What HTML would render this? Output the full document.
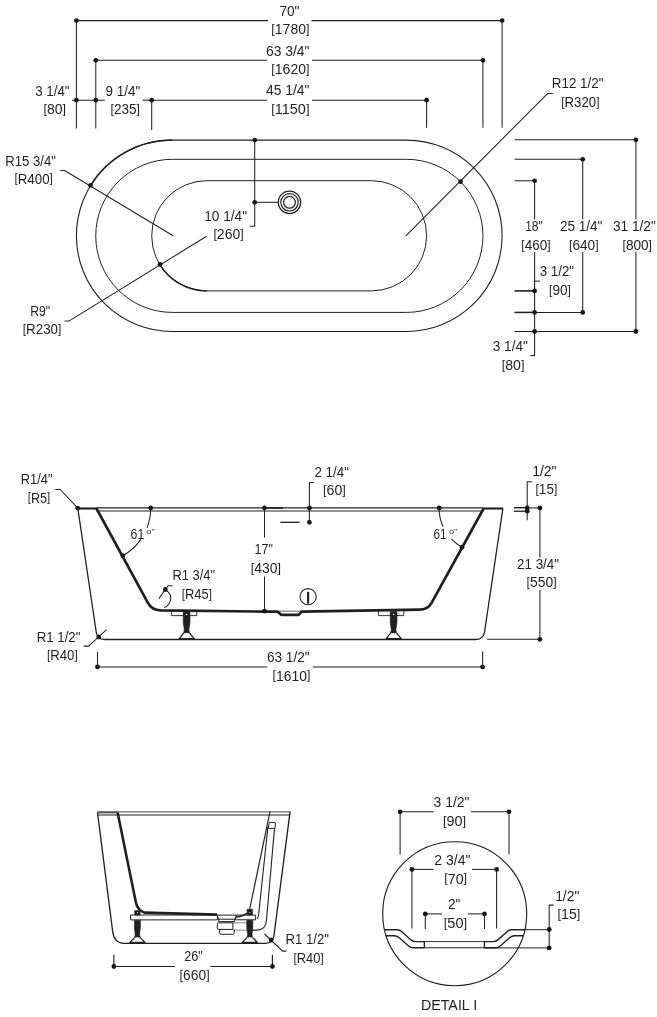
<!DOCTYPE html>
<html><head><meta charset="utf-8"><title>Bathtub dimensions</title>
<style>
html,body{margin:0;padding:0;background:#fff;}
svg{display:block;will-change:transform;}
svg text{font-family:"Liberation Sans",sans-serif;fill:#231f20;stroke:none;}
svg .d{fill:#1a1718;stroke:none;}
</style></head><body>
<svg width="657" height="1017" viewBox="0 0 657 1017" fill="none" stroke="#231f20" stroke-width="1.05" stroke-linecap="butt" stroke-linejoin="round">
<g id="top">
<path d="M172.1,140.1 H406.4 A95.7,95.7 0 0 1 406.4,331.5 H172.1 A95.7,95.7 0 0 1 172.1,140.1 Z" stroke-width="1.1"/>
<path d="M172.3,159.3 H406.4 A76.5,76.5 0 0 1 406.4,312.4 H172.3 A76.5,76.5 0 0 1 172.3,159.3 Z" stroke-width="1.0"/>
<path d="M206.8,180.7 H371.5 A55.1,55.1 0 0 1 371.5,290.9 H206.8 A55.1,55.1 0 0 1 206.8,180.7 Z" stroke-width="1.0"/>
<circle cx="289.5" cy="202.3" r="11.2" stroke-width="1.2"/>
<circle cx="289.5" cy="202.3" r="8.7" stroke-width="1.2"/>
<circle cx="289.5" cy="202.3" r="5.9" stroke-width="1.2"/>
<line x1="76.4" y1="20.6" x2="268.0" y2="20.6"/>
<line x1="311.5" y1="20.6" x2="502.1" y2="20.6"/>
<line x1="76.4" y1="20.6" x2="76.4" y2="128.6"/>
<line x1="502.1" y1="20.6" x2="502.1" y2="127.8"/>
<circle cx="76.4" cy="20.6" r="2.4" class="d"/>
<circle cx="502.1" cy="20.6" r="2.4" class="d"/>
<line x1="95.8" y1="60.3" x2="267.0" y2="60.3"/>
<line x1="312.0" y1="60.3" x2="482.9" y2="60.3"/>
<line x1="95.8" y1="60.3" x2="95.8" y2="128.6"/>
<line x1="482.9" y1="60.3" x2="482.9" y2="127.8"/>
<circle cx="95.8" cy="60.3" r="2.4" class="d"/>
<circle cx="482.9" cy="60.3" r="2.4" class="d"/>
<line x1="151.7" y1="100.2" x2="267.0" y2="100.2"/>
<line x1="312.0" y1="100.2" x2="426.6" y2="100.2"/>
<line x1="151.7" y1="100.2" x2="151.7" y2="130.0"/>
<line x1="426.6" y1="100.2" x2="426.6" y2="127.8"/>
<circle cx="151.7" cy="100.2" r="2.4" class="d"/>
<circle cx="426.6" cy="100.2" r="2.4" class="d"/>
<line x1="72.0" y1="100.2" x2="104.8" y2="100.2"/>
<circle cx="76.4" cy="100.2" r="2.4" class="d"/>
<circle cx="95.8" cy="100.2" r="2.4" class="d"/>
<line x1="142.6" y1="100.2" x2="151.7" y2="100.2"/>
<text x="35.2" y="95.9" textLength="34.4" lengthAdjust="spacingAndGlyphs" font-size="13.9">3 1/4&quot;</text>
<text x="43.5" y="113.9" textLength="22.5" lengthAdjust="spacingAndGlyphs" font-size="13.9"><tspan font-size="12.4" dy="-1.2">[</tspan><tspan dy="1.2">80</tspan><tspan font-size="12.4" dy="-1.2">]</tspan></text>
<text x="105.5" y="96.0" textLength="34.8" lengthAdjust="spacingAndGlyphs" font-size="13.9">9 1/4&quot;</text>
<text x="110.5" y="114.0" textLength="29.5" lengthAdjust="spacingAndGlyphs" font-size="13.9"><tspan font-size="12.4" dy="-1.2">[</tspan><tspan dy="1.2">235</tspan><tspan font-size="12.4" dy="-1.2">]</tspan></text>
<text x="279.4" y="16.0" textLength="20.1" lengthAdjust="spacingAndGlyphs" font-size="13.9">70&quot;</text>
<text x="271.3" y="33.7" textLength="38.2" lengthAdjust="spacingAndGlyphs" font-size="13.9"><tspan font-size="12.4" dy="-1.2">[</tspan><tspan dy="1.2">1780</tspan><tspan font-size="12.4" dy="-1.2">]</tspan></text>
<text x="266.0" y="55.6" textLength="43.5" lengthAdjust="spacingAndGlyphs" font-size="13.9">63 3/4&quot;</text>
<text x="271.3" y="74.4" textLength="38.2" lengthAdjust="spacingAndGlyphs" font-size="13.9"><tspan font-size="12.4" dy="-1.2">[</tspan><tspan dy="1.2">1620</tspan><tspan font-size="12.4" dy="-1.2">]</tspan></text>
<text x="266.0" y="95.4" textLength="43.5" lengthAdjust="spacingAndGlyphs" font-size="13.9">45 1/4&quot;</text>
<text x="271.3" y="114.2" textLength="38.2" lengthAdjust="spacingAndGlyphs" font-size="13.9"><tspan font-size="12.4" dy="-1.2">[</tspan><tspan dy="1.2">1150</tspan><tspan font-size="12.4" dy="-1.2">]</tspan></text>
<text x="551.8" y="88.3" textLength="51.6" lengthAdjust="spacingAndGlyphs" font-size="13.9">R12 1/2&quot;</text>
<text x="561.2" y="107.2" textLength="38.3" lengthAdjust="spacingAndGlyphs" font-size="13.9"><tspan font-size="12.4" dy="-1.2">[</tspan><tspan dy="1.2">R320</tspan><tspan font-size="12.4" dy="-1.2">]</tspan></text>
<path d="M552.8,93.4 H547.8 L405.9,235.9"/>
<circle cx="460.6" cy="181.7" r="2.4" class="d"/>
<text x="5.3" y="165.7" textLength="50.6" lengthAdjust="spacingAndGlyphs" font-size="13.9">R15 3/4&quot;</text>
<text x="14.4" y="183.5" textLength="38.5" lengthAdjust="spacingAndGlyphs" font-size="13.9"><tspan font-size="12.4" dy="-1.2">[</tspan><tspan dy="1.2">R400</tspan><tspan font-size="12.4" dy="-1.2">]</tspan></text>
<path d="M60.3,170.5 H64.6 L173.1,235.8"/>
<path d="M90.4,185.5 A95.7,95.7 0 0 1 172.1,140.1" stroke-width="1.55"/>
<circle cx="90.5" cy="185.4" r="2.4" class="d"/>
<text x="30.3" y="316.0" textLength="19.9" lengthAdjust="spacingAndGlyphs" font-size="13.9">R9&quot;</text>
<text x="22.8" y="333.7" textLength="38.5" lengthAdjust="spacingAndGlyphs" font-size="13.9"><tspan font-size="12.4" dy="-1.2">[</tspan><tspan dy="1.2">R230</tspan><tspan font-size="12.4" dy="-1.2">]</tspan></text>
<path d="M64.6,320.9 H69.3 L206.6,236.2"/>
<path d="M159.8,264.6 A55.1,55.1 0 0 0 206.8,290.9" stroke-width="1.5"/>
<circle cx="160.0" cy="264.4" r="2.4" class="d"/>
<path d="M254.7,140.1 V226.3 H249.9"/>
<circle cx="254.7" cy="140.1" r="2.4" class="d"/>
<circle cx="254.7" cy="202.3" r="2.4" class="d"/>
<line x1="254.7" y1="202.3" x2="278.3" y2="202.3"/>
<text x="204.3" y="221.2" textLength="42.7" lengthAdjust="spacingAndGlyphs" font-size="13.9">10 1/4&quot;</text>
<text x="213.4" y="239.3" textLength="30.3" lengthAdjust="spacingAndGlyphs" font-size="13.9"><tspan font-size="12.4" dy="-1.2">[</tspan><tspan dy="1.2">260</tspan><tspan font-size="12.4" dy="-1.2">]</tspan></text>
<line x1="514.6" y1="139.8" x2="635.9" y2="139.8"/>
<circle cx="635.9" cy="139.8" r="2.4" class="d"/>
<line x1="514.6" y1="159.3" x2="582.7" y2="159.3"/>
<circle cx="582.7" cy="159.3" r="2.4" class="d"/>
<line x1="514.6" y1="180.8" x2="534.6" y2="180.8"/>
<circle cx="534.6" cy="180.8" r="2.4" class="d"/>
<line x1="635.9" y1="139.8" x2="635.9" y2="219.5"/>
<line x1="635.9" y1="252.0" x2="635.9" y2="331.5"/>
<line x1="582.7" y1="159.3" x2="582.7" y2="219.5"/>
<line x1="582.7" y1="252.0" x2="582.7" y2="312.4"/>
<line x1="534.6" y1="180.8" x2="534.6" y2="219.5"/>
<path d="M534.6,252 V355.4 H530.3"/>
<line x1="534.6" y1="281.1" x2="540.0" y2="281.1"/>
<line x1="514.6" y1="290.9" x2="534.6" y2="290.9" stroke-width="1.6"/>
<circle cx="534.6" cy="290.9" r="2.4" class="d"/>
<line x1="514.6" y1="312.4" x2="582.7" y2="312.4"/>
<line x1="514.6" y1="312.4" x2="534.6" y2="312.4" stroke-width="1.5"/>
<circle cx="534.6" cy="312.4" r="2.4" class="d"/>
<circle cx="582.7" cy="312.4" r="2.4" class="d"/>
<line x1="514.6" y1="331.5" x2="635.9" y2="331.5"/>
<circle cx="534.6" cy="331.5" r="2.4" class="d"/>
<circle cx="635.9" cy="331.5" r="2.4" class="d"/>
<text x="525.2" y="231.3" textLength="17.6" lengthAdjust="spacingAndGlyphs" font-size="13.9">18&quot;</text>
<text x="521.3" y="249.8" textLength="29.3" lengthAdjust="spacingAndGlyphs" font-size="13.9"><tspan font-size="12.4" dy="-1.2">[</tspan><tspan dy="1.2">460</tspan><tspan font-size="12.4" dy="-1.2">]</tspan></text>
<text x="560.0" y="231.3" textLength="42.4" lengthAdjust="spacingAndGlyphs" font-size="13.9">25 1/4&quot;</text>
<text x="569.0" y="249.8" textLength="29.6" lengthAdjust="spacingAndGlyphs" font-size="13.9"><tspan font-size="12.4" dy="-1.2">[</tspan><tspan dy="1.2">640</tspan><tspan font-size="12.4" dy="-1.2">]</tspan></text>
<text x="613.0" y="231.3" textLength="42.8" lengthAdjust="spacingAndGlyphs" font-size="13.9">31 1/2&quot;</text>
<text x="622.5" y="249.8" textLength="29.5" lengthAdjust="spacingAndGlyphs" font-size="13.9"><tspan font-size="12.4" dy="-1.2">[</tspan><tspan dy="1.2">800</tspan><tspan font-size="12.4" dy="-1.2">]</tspan></text>
<text x="539.7" y="276.4" textLength="34.4" lengthAdjust="spacingAndGlyphs" font-size="13.9">3 1/2&quot;</text>
<text x="549.1" y="294.8" textLength="21.9" lengthAdjust="spacingAndGlyphs" font-size="13.9"><tspan font-size="12.4" dy="-1.2">[</tspan><tspan dy="1.2">90</tspan><tspan font-size="12.4" dy="-1.2">]</tspan></text>
<text x="492.7" y="351.3" textLength="35.2" lengthAdjust="spacingAndGlyphs" font-size="13.9">3 1/4&quot;</text>
<text x="501.7" y="369.8" textLength="22.7" lengthAdjust="spacingAndGlyphs" font-size="13.9"><tspan font-size="12.4" dy="-1.2">[</tspan><tspan dy="1.2">80</tspan><tspan font-size="12.4" dy="-1.2">]</tspan></text>
</g>
<g id="side">
<line x1="96.5" y1="507.8" x2="483.6" y2="507.8" stroke-width="1.2"/>
<line x1="96.5" y1="511.0" x2="483.6" y2="511.0" stroke-width="1.0"/>
<line x1="77.7" y1="508.5" x2="97.0" y2="508.5" stroke-width="2.1"/>
<line x1="483.2" y1="508.5" x2="503.2" y2="508.5" stroke-width="2.1"/>
<path d="M77.9,509 L96.3,632.5 Q97.4,639.5 104.5,639.5 H476 Q483.4,639.5 484.6,631.5 L502.8,509" stroke-width="1.3"/>
<path d="M96.5,508.5 L147.9,602.8 Q151.8,610 160.6,610.4 L264.5,611.6 L277.4,611.6 L281.2,614.8 H298.7 L301.8,611.6 L419.5,609.7 Q427.8,609.6 431.6,602.8 L483.6,508.5" stroke-width="2.7"/>
<line x1="277.4" y1="611.2" x2="301.8" y2="611.2" stroke-width="0.7"/>
<path d="M171.4,611 V615.6 H196.8 V611" stroke-width="0.9"/>
<path d="M183.2,611.5 H190.0 V622.5 L188.9,630 L189.8,633.6 H183.4 L184.3,630 L183.2,622.5 Z" stroke-width="0.6" fill="#231f20"/>
<path d="M183.6,633.2 L179.2,638.6 H194.2 L189.6,633.2" stroke-width="1.3" fill="#fff"/>
<circle cx="186.6" cy="614.4" r="0.7" fill="#fff" stroke="none"/>
<circle cx="186.6" cy="633.4" r="0.7" fill="#fff" stroke="none"/>
<path d="M378.4,611 V615.6 H403.8 V611" stroke-width="0.9"/>
<path d="M390.2,611.5 H397.0 V622.5 L395.9,630 L396.8,633.6 H390.4 L391.3,630 L390.2,622.5 Z" stroke-width="0.6" fill="#231f20"/>
<path d="M390.6,633.2 L386.2,638.6 H401.2 L396.6,633.2" stroke-width="1.3" fill="#fff"/>
<circle cx="393.6" cy="614.4" r="0.7" fill="#fff" stroke="none"/>
<circle cx="393.6" cy="633.4" r="0.7" fill="#fff" stroke="none"/>
<path d="M150.7,508.3 A54.2,54.2 0 0 1 147.1,527.7"/>
<path d="M140.9,539.4 A54.2,54.2 0 0 1 122.8,555.7"/>
<circle cx="150.7" cy="507.9" r="2.4" class="d"/>
<circle cx="122.8" cy="555.7" r="2.4" class="d"/>
<path d="M439.1,508.3 A44.5,44.5 0 0 0 443.1,526.8"/>
<path d="M451.3,538.9 A44.5,44.5 0 0 0 462.0,547.2"/>
<circle cx="439.1" cy="507.9" r="2.4" class="d"/>
<circle cx="462.0" cy="547.2" r="2.4" class="d"/>
<text x="130.6" y="539.4" textLength="13.6" lengthAdjust="spacingAndGlyphs" font-size="13.9">61</text>
<text x="146.3" y="533.7" textLength="8.4" lengthAdjust="spacingAndGlyphs" font-size="8">o&quot;</text>
<text x="433.4" y="538.8" textLength="13.0" lengthAdjust="spacingAndGlyphs" font-size="13.9">61</text>
<text x="448.9" y="533.5" textLength="8.4" lengthAdjust="spacingAndGlyphs" font-size="8">o&quot;</text>
<text x="20.8" y="484.4" textLength="31.8" lengthAdjust="spacingAndGlyphs" font-size="13.9">R1/4&quot;</text>
<text x="27.8" y="502.6" textLength="22.4" lengthAdjust="spacingAndGlyphs" font-size="13.9"><tspan font-size="12.4" dy="-1.2">[</tspan><tspan dy="1.2">R5</tspan><tspan font-size="12.4" dy="-1.2">]</tspan></text>
<path d="M55.3,489.5 H60.3 L77.7,508.2"/>
<circle cx="77.7" cy="508.2" r="2.4" class="d"/>
<text x="172.5" y="580.4" textLength="42.5" lengthAdjust="spacingAndGlyphs" font-size="13.9">R1 3/4&quot;</text>
<text x="181.8" y="598.9" textLength="30.2" lengthAdjust="spacingAndGlyphs" font-size="13.9"><tspan font-size="12.4" dy="-1.2">[</tspan><tspan dy="1.2">R45</tspan><tspan font-size="12.4" dy="-1.2">]</tspan></text>
<path d="M172.6,585.7 H168 L158.9,598.6"/>
<path d="M165.3,589.5 Q172,594 170.6,600 Q169.2,605.5 164.2,607.7"/>
<circle cx="165.3" cy="589.5" r="2.4" class="d"/>
<text x="36.8" y="641.8" textLength="43.6" lengthAdjust="spacingAndGlyphs" font-size="13.9">R1 1/2&quot;</text>
<text x="46.9" y="660.0" textLength="30.8" lengthAdjust="spacingAndGlyphs" font-size="13.9"><tspan font-size="12.4" dy="-1.2">[</tspan><tspan dy="1.2">R40</tspan><tspan font-size="12.4" dy="-1.2">]</tspan></text>
<path d="M83.7,646.1 H88.7 L106.5,629.7"/>
<circle cx="98.8" cy="637.0" r="2.4" class="d"/>
<line x1="264.5" y1="507.9" x2="264.5" y2="537.5"/>
<line x1="264.5" y1="576.5" x2="264.5" y2="611.2"/>
<circle cx="264.5" cy="507.9" r="2.4" class="d"/>
<circle cx="264.5" cy="611.2" r="2.4" class="d"/>
<line x1="264.5" y1="508.0" x2="283.0" y2="508.0" stroke-width="1.6"/>
<text x="254.5" y="554.4" textLength="18.4" lengthAdjust="spacingAndGlyphs" font-size="13.9">17&quot;</text>
<text x="250.8" y="572.9" textLength="30.2" lengthAdjust="spacingAndGlyphs" font-size="13.9"><tspan font-size="12.4" dy="-1.2">[</tspan><tspan dy="1.2">430</tspan><tspan font-size="12.4" dy="-1.2">]</tspan></text>
<path d="M313.8,482.5 H309.4 V522.3"/>
<circle cx="309.4" cy="507.9" r="2.4" class="d"/>
<circle cx="309.4" cy="522.3" r="2.4" class="d"/>
<line x1="280.3" y1="522.3" x2="299.7" y2="522.3" stroke-width="1.3"/>
<text x="314.4" y="477.1" textLength="34.5" lengthAdjust="spacingAndGlyphs" font-size="13.9">2 1/4&quot;</text>
<text x="323.1" y="495.2" textLength="22.8" lengthAdjust="spacingAndGlyphs" font-size="13.9"><tspan font-size="12.4" dy="-1.2">[</tspan><tspan dy="1.2">60</tspan><tspan font-size="12.4" dy="-1.2">]</tspan></text>
<circle cx="308.1" cy="596.7" r="8.1" stroke-width="1.1"/>
<line x1="308.1" y1="591.8" x2="308.1" y2="603.6" stroke-width="2.1"/>
<line x1="97.5" y1="666.9" x2="267.2" y2="666.9"/>
<line x1="312.8" y1="666.9" x2="482.6" y2="666.9"/>
<line x1="97.5" y1="652.1" x2="97.5" y2="666.9"/>
<line x1="482.6" y1="651.4" x2="482.6" y2="666.9"/>
<circle cx="97.5" cy="666.9" r="2.4" class="d"/>
<circle cx="482.6" cy="666.9" r="2.4" class="d"/>
<text x="266.9" y="662.1" textLength="42.8" lengthAdjust="spacingAndGlyphs" font-size="13.9">63 1/2&quot;</text>
<text x="272.6" y="680.5" textLength="37.8" lengthAdjust="spacingAndGlyphs" font-size="13.9"><tspan font-size="12.4" dy="-1.2">[</tspan><tspan dy="1.2">1610</tspan><tspan font-size="12.4" dy="-1.2">]</tspan></text>
<line x1="513.8" y1="507.7" x2="527.2" y2="507.7" stroke-width="1.4"/>
<line x1="513.8" y1="511.2" x2="527.2" y2="511.2" stroke-width="1.3"/>
<path d="M532.2,481.8 H527.2 V520.3"/>
<circle cx="527.2" cy="507.9" r="2.4" class="d"/>
<circle cx="527.2" cy="511.2" r="2.4" class="d"/>
<line x1="527.2" y1="507.9" x2="539.9" y2="507.9"/>
<circle cx="539.9" cy="507.9" r="2.4" class="d"/>
<line x1="539.9" y1="507.9" x2="539.9" y2="557.5"/>
<line x1="539.9" y1="590.0" x2="539.9" y2="639.3"/>
<circle cx="539.9" cy="639.3" r="2.4" class="d"/>
<line x1="487.0" y1="639.3" x2="539.9" y2="639.3"/>
<text x="532.2" y="476.1" textLength="24.4" lengthAdjust="spacingAndGlyphs" font-size="13.9">1/2&quot;</text>
<text x="535.5" y="494.2" textLength="21.8" lengthAdjust="spacingAndGlyphs" font-size="13.9"><tspan font-size="12.4" dy="-1.2">[</tspan><tspan dy="1.2">15</tspan><tspan font-size="12.4" dy="-1.2">]</tspan></text>
<text x="517.1" y="568.5" textLength="41.9" lengthAdjust="spacingAndGlyphs" font-size="13.9">21 3/4&quot;</text>
<text x="526.5" y="587.0" textLength="30.1" lengthAdjust="spacingAndGlyphs" font-size="13.9"><tspan font-size="12.4" dy="-1.2">[</tspan><tspan dy="1.2">550</tspan><tspan font-size="12.4" dy="-1.2">]</tspan></text>
</g>
<g id="end" stroke-width="1.15">
<line x1="97.5" y1="812.3" x2="117.8" y2="812.3" stroke-width="2.2" stroke="#5a5657"/>
<line x1="117.6" y1="811.8" x2="290.1" y2="811.8" stroke-width="1.3" stroke="#6e6a6b"/>
<line x1="97.8" y1="815.0" x2="289.7" y2="815.0" stroke-width="1.15"/>
<path d="M97.5,812.5 L112.6,931 Q114,943.3 124,943.3 H266 Q272.6,943.3 273.9,936 L290.1,811.7" stroke-width="1.35"/>
<path d="M130.6,915 H217.4 V919.9 H130.6 Z" stroke-width="1.0" fill="#fff"/>
<path d="M236.5,915.1 H255.6 V919.8 H235.5 Z" stroke-width="1.0" fill="#fff"/>
<path d="M117.6,812.6 L135.9,902.5 Q137.4,910 144.5,912.6 L217,914.6" stroke-width="2.6"/>
<path d="M270,811.7 L249.4,910.5" stroke-width="1.15"/>
<path d="M267.9,826.8 L258.6,915 Q258,918.5 257,918.9" stroke-width="1.1"/>
<path d="M269.3,822.4 H274.2 Q275.6,822.4 275.4,824 L275,828.4 H268.3 Z" stroke-width="1.0"/>
<path d="M274.5,828.4 L266.4,921 Q265.5,930.1 257,930.1 H247" stroke-width="1.1"/>
<path d="M216.9,915.1 H236.5 L234.7,919.2 H218.7 Z" stroke-width="1.0" fill="#fff"/>
<path d="M218.7,919.2 V921.6 H234.7 V919.2" stroke-width="1.0"/>
<path d="M218.6,922.8 H232.9 V929.4 H218.6 Q217.3,929.4 217.3,928 V924.2 Q217.3,922.8 218.6,922.8 Z" stroke-width="1.0"/>
<path d="M232.9,922.8 H247 M232.9,930.1 H247" stroke-width="0.8" stroke="#6a6667"/>
<path d="M219.6,929.6 V932.8 Q219.6,934.3 221.1,934.3 H232.7 Q234.2,934.3 234.2,932.8 V929.6" stroke-width="1.0"/>
<path d="M236.5,917 Q243,916.5 247,913.2" stroke-width="1.6"/>
<path d="M134.7,910.6 H140.1 V915 H134.7 Z" stroke-width="0.6" fill="#231f20"/>
<path d="M134.4,920.3 H140.4 V928 L139.6,934.5 L140.4,938 H134.4 L135.2,934.5 L134.4,928 Z" stroke-width="0.6" fill="#231f20"/>
<path d="M134.6,937.6 L129.8,942.4 H145.0 L140.2,937.6" stroke-width="1.3" fill="#fff"/>
<circle cx="137.4" cy="912.6" r="0.55" fill="#fff" stroke="none"/>
<circle cx="137.4" cy="937.4" r="0.55" fill="#fff" stroke="none"/>
<path d="M247.1,909.3 H252.5 V915 H247.1 Z" stroke-width="0.6" fill="#231f20"/>
<path d="M246.8,920.3 H252.8 V928 L252.0,934.5 L252.8,938 H246.8 L247.6,934.5 L246.8,928 Z" stroke-width="0.6" fill="#231f20"/>
<path d="M247.0,937.6 L242.2,942.4 H257.4 L252.6,937.6" stroke-width="1.3" fill="#fff"/>
<circle cx="249.8" cy="912.6" r="0.55" fill="#fff" stroke="none"/>
<circle cx="249.8" cy="937.4" r="0.55" fill="#fff" stroke="none"/>
<line x1="113.9" y1="966.5" x2="174.9" y2="966.5"/>
<line x1="210.3" y1="966.5" x2="272.4" y2="966.5"/>
<line x1="113.9" y1="954.8" x2="113.9" y2="966.5"/>
<line x1="272.4" y1="954.8" x2="272.4" y2="966.5"/>
<circle cx="113.9" cy="966.5" r="2.4" class="d"/>
<circle cx="272.4" cy="966.5" r="2.4" class="d"/>
<text x="184.2" y="960.9" textLength="18.6" lengthAdjust="spacingAndGlyphs" font-size="13.9">26&quot;</text>
<text x="179.6" y="980.3" textLength="30.0" lengthAdjust="spacingAndGlyphs" font-size="13.9"><tspan font-size="12.4" dy="-1.2">[</tspan><tspan dy="1.2">660</tspan><tspan font-size="12.4" dy="-1.2">]</tspan></text>
<text x="285.6" y="944.1" textLength="43.4" lengthAdjust="spacingAndGlyphs" font-size="13.9">R1 1/2&quot;</text>
<text x="293.6" y="962.8" textLength="30.0" lengthAdjust="spacingAndGlyphs" font-size="13.9"><tspan font-size="12.4" dy="-1.2">[</tspan><tspan dy="1.2">R40</tspan><tspan font-size="12.4" dy="-1.2">]</tspan></text>
<path d="M264.5,934 L282.6,951.1 H286.3"/>
<circle cx="271.1" cy="940.0" r="2.4" class="d"/>
</g>
<g id="detail">
<circle cx="454.7" cy="913.7" r="72" stroke-width="1.15"/>
<line x1="400.1" y1="811.8" x2="433.6" y2="811.8"/>
<line x1="471.1" y1="811.8" x2="509.0" y2="811.8"/>
<line x1="400.1" y1="811.8" x2="400.1" y2="854.5"/>
<line x1="509.0" y1="811.8" x2="509.0" y2="854.5"/>
<circle cx="400.1" cy="811.8" r="2.4" class="d"/>
<circle cx="509.0" cy="811.8" r="2.4" class="d"/>
<text x="433.6" y="807.0" textLength="35.9" lengthAdjust="spacingAndGlyphs" font-size="13.9">3 1/2&quot;</text>
<text x="443.0" y="825.9" textLength="23.1" lengthAdjust="spacingAndGlyphs" font-size="13.9"><tspan font-size="12.4" dy="-1.2">[</tspan><tspan dy="1.2">90</tspan><tspan font-size="12.4" dy="-1.2">]</tspan></text>
<line x1="411.9" y1="869.4" x2="433.6" y2="869.4"/>
<line x1="472.1" y1="869.4" x2="496.6" y2="869.4"/>
<line x1="411.9" y1="869.4" x2="411.9" y2="928.4"/>
<line x1="496.6" y1="869.4" x2="496.6" y2="928.4"/>
<circle cx="411.9" cy="869.4" r="2.4" class="d"/>
<circle cx="496.6" cy="869.4" r="2.4" class="d"/>
<text x="434.3" y="864.6" textLength="36.2" lengthAdjust="spacingAndGlyphs" font-size="13.9">2 3/4&quot;</text>
<text x="444.3" y="883.5" textLength="22.8" lengthAdjust="spacingAndGlyphs" font-size="13.9"><tspan font-size="12.4" dy="-1.2">[</tspan><tspan dy="1.2">70</tspan><tspan font-size="12.4" dy="-1.2">]</tspan></text>
<line x1="425.3" y1="913.9" x2="442.0" y2="913.9"/>
<line x1="467.8" y1="913.9" x2="484.5" y2="913.9"/>
<line x1="425.3" y1="913.9" x2="425.3" y2="929.0"/>
<line x1="484.5" y1="913.9" x2="484.5" y2="929.0"/>
<circle cx="425.3" cy="913.9" r="2.4" class="d"/>
<circle cx="484.5" cy="913.9" r="2.4" class="d"/>
<text x="448.0" y="909.2" textLength="12.4" lengthAdjust="spacingAndGlyphs" font-size="13.9">2&quot;</text>
<text x="443.7" y="928.0" textLength="23.4" lengthAdjust="spacingAndGlyphs" font-size="13.9"><tspan font-size="12.4" dy="-1.2">[</tspan><tspan dy="1.2">50</tspan><tspan font-size="12.4" dy="-1.2">]</tspan></text>
<path d="M384.4,929.8 H397 Q399.6,929.8 401.6,931.5 L411,939.9 Q413,941.6 415.6,941.6 H424.4 V947.7" stroke-width="1.4"/>
<path d="M385.6,935.8 H394.3 Q396.9,935.8 398.9,937.5 L408.6,946 Q410.6,947.7 413.2,947.7 H424.4" stroke-width="1.4"/>
<path d="M484.4,947.7 V941.6 H493.2 Q495.8,941.6 497.8,939.9 L507.4,931.5 Q509.4,929.8 512,929.8 H525" stroke-width="1.4"/>
<path d="M484.4,947.7 H495.6 Q498.2,947.7 500.2,946 L509.9,937.5 Q511.9,935.8 514.5,935.8 H523.4" stroke-width="1.4"/>
<line x1="424.4" y1="941.6" x2="484.4" y2="941.6" stroke-width="0.9"/>
<line x1="424.4" y1="947.8" x2="484.4" y2="947.8" stroke-width="1.1"/>
<line x1="484.4" y1="947.9" x2="549.2" y2="947.9" stroke-width="1.0"/>
<line x1="525.0" y1="929.7" x2="549.2" y2="929.7" stroke-width="1.0"/>
<path d="M553.6,905.1 H549.2 V947.9"/>
<circle cx="549.2" cy="929.5" r="2.4" class="d"/>
<circle cx="549.2" cy="947.9" r="2.4" class="d"/>
<text x="555.2" y="900.8" textLength="24.1" lengthAdjust="spacingAndGlyphs" font-size="13.9">1/2&quot;</text>
<text x="557.5" y="919.0" textLength="22.8" lengthAdjust="spacingAndGlyphs" font-size="13.9"><tspan font-size="12.4" dy="-1.2">[</tspan><tspan dy="1.2">15</tspan><tspan font-size="12.4" dy="-1.2">]</tspan></text>
<text x="420.9" y="1009.9" textLength="56.3" lengthAdjust="spacingAndGlyphs" font-size="15">DETAIL I</text>
</g>
</svg>
</body></html>
